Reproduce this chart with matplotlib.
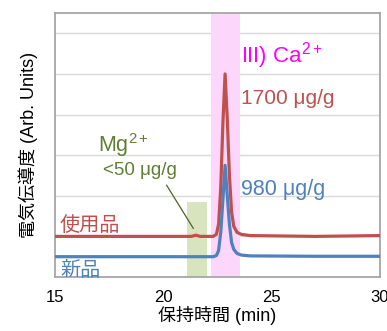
import matplotlib
matplotlib.use("Agg")
import matplotlib.pyplot as plt

plt.rcParams['font.family'] = ['Liberation Sans', 'Noto Sans CJK JP', 'DejaVu Sans']
plt.rcParams['mathtext.fontset'] = 'custom'
plt.rcParams['mathtext.rm'] = 'Liberation Sans'
plt.rcParams['mathtext.it'] = 'Liberation Sans:italic'

# ---- data ----
time_used = [15.0, 18.0, 21.3, 21.5, 21.7, 22.3, 22.45, 22.55, 22.65, 22.75, 22.85,
             22.95, 23.05, 23.15, 23.25, 23.4, 23.6, 24.0, 27.0, 30.0]
sig_used = [1.0, 1.0, 1.0, 1.03, 1.0, 1.0, 1.05, 1.3, 2.2, 3.8, 5.0,
            3.9, 2.5, 1.6, 1.25, 1.1, 1.05, 1.02, 1.0, 1.02]
time_new = [15.0, 18.0, 21.5, 22.3, 22.45, 22.55, 22.65, 22.75, 22.85,
            22.95, 23.05, 23.15, 23.25, 23.4, 23.6, 24.0, 27.0, 30.0]
sig_new = [0.5, 0.5, 0.5, 0.5, 0.53, 0.65, 1.1, 1.9, 2.75,
           2.0, 1.3, 0.85, 0.68, 0.58, 0.54, 0.52, 0.51, 0.51]
mg_band = (21.08, 22.0, 1.85)   # x range and height
ca_band = (22.2, 23.52)
xticks = [15, 20, 25, 30]

RED = '#c0504d'
BLUE = '#4f81bd'
OLIVE = '#5f7f32'

fig = plt.figure(figsize=(3.87, 3.31), dpi=100)
ax = fig.add_axes([55/387, 1-277/331, (380-55)/387, (277-13)/331])
ax.set_xlim(15, 30)
ax.set_ylim(0, 6.5)

ax.axvspan(ca_band[0], ca_band[1], color='#fcd7fb', lw=0, zorder=1)
ax.fill_between([mg_band[0], mg_band[1]], 0, mg_band[2], color='#d7e4bd', lw=0, zorder=1)

ax.set_yticks(range(0, 7))
ax.yaxis.grid(True, color='#d9d9d9', lw=1)
ax.set_axisbelow(True)
ax.set_yticklabels([])
ax.set_xticks(xticks)
ax.tick_params(length=0, labelsize=12, pad=9)

ax.plot(time_used, sig_used, color=RED, lw=2.3, zorder=3, solid_joinstyle='round')
ax.plot(time_new, sig_new, color=BLUE, lw=2.3, zorder=3, solid_joinstyle='round')

for s in ax.spines.values():
    s.set_color('#a6a6a6')
    s.set_linewidth(1.3)

ax.set_xlabel('保持時間 (min)', fontsize=13, labelpad=1)
ax.set_ylabel('電気伝導度 (Arb. Units)', fontsize=13, labelpad=3)

ax.text(17.0, 3.07, r'Mg$^{\mathregular{2+}}$', color=OLIVE, fontsize=15.5, va='baseline')
ax.text(17.23, 2.5, '<50 μg/g', color=OLIVE, fontsize=13.5, va='baseline')
ax.plot([20.15, 21.38], [2.26, 1.2], color='#4f6228', lw=0.9, zorder=4)

ax.text(23.58, 5.29, r'III) Ca$^{\mathregular{2+}}$', color='#ff00ff', fontsize=16, va='baseline')
ax.text(23.58, 4.27, '1700 μg/g', color=RED, fontsize=15, va='baseline')
ax.text(23.58, 2.01, '980 μg/g', color=BLUE, fontsize=15.5, va='baseline')
ax.text(15.23, 1.13, '使用品', color=RED, fontsize=14.5, va='baseline')
ax.text(15.23, 0.03, '新品', color=BLUE, fontsize=14.5, va='baseline')

fig.savefig('out.png', dpi=100)
